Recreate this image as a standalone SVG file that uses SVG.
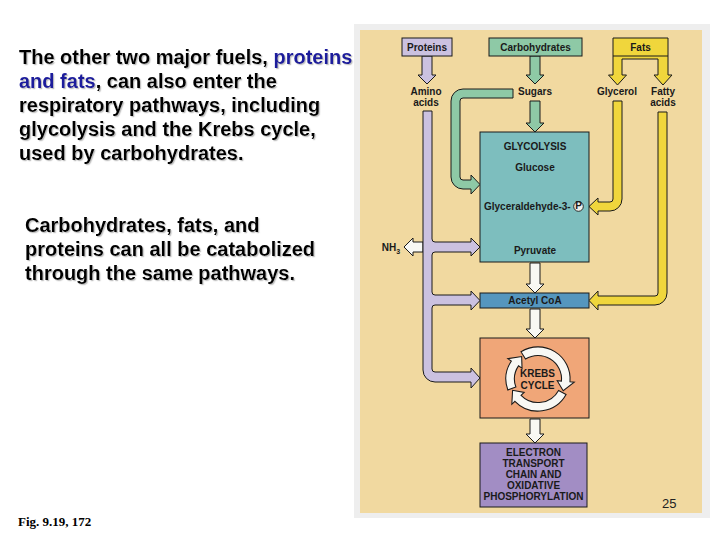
<svg xmlns="http://www.w3.org/2000/svg" width="720" height="540" viewBox="0 0 720 540">
<defs>
<filter id="sh" x="-5%" y="-20%" width="110%" height="140%">
<feDropShadow dx="1.2" dy="1.2" stdDeviation="0.4" flood-color="#9a9a9a" flood-opacity="0.6"/>
</filter>
</defs>
<style>
.lt{font-family:"Liberation Sans",Arial,sans-serif;font-weight:bold;font-size:20px;fill:#000}
.bl{fill:#1c1c9c}
.lb{font-family:"Liberation Sans",Arial,sans-serif;font-weight:bold;font-size:10px;fill:#1a1a1a;text-anchor:middle}
.st{text-anchor:start}
.box{stroke:#1a1a1a;stroke-width:1}
.ar{stroke:#1a1a1a;stroke-width:1;stroke-linejoin:miter}
.wh{fill:#f8f8f4}
.pr{fill:#cbc1e0}
.gr{fill:#8ec9a6}
.ye{fill:#f0d63c}
</style>
<rect width="720" height="540" fill="#ffffff"/>
<rect x="354" y="24" width="356" height="494" fill="#eeeeee"/>
<rect x="360" y="30" width="342" height="483" fill="#f1d9a0"/>

<g id="left-text" filter="url(#sh)">
<text class="lt" x="19" y="64">The other two major fuels, <tspan class="bl">proteins</tspan></text>
<text class="lt" x="19" y="88"><tspan class="bl">and fats</tspan>, can also enter the</text>
<text class="lt" x="19" y="112">respiratory pathways, including</text>
<text class="lt" x="19" y="136">glycolysis and the Krebs cycle,</text>
<text class="lt" x="19" y="160">used by carbohydrates.</text>
<text class="lt" x="25" y="232">Carbohydrates, fats, and</text>
<text class="lt" x="25" y="256">proteins can all be catabolized</text>
<text class="lt" x="25" y="280">through the same pathways.</text>
</g>
<text x="18" y="526" font-family="'Liberation Serif','Times New Roman',serif" font-weight="bold" font-size="13" fill="#000">Fig. 9.19, 172</text>
<text x="662" y="508" font-family="'Liberation Sans',Arial,sans-serif" font-size="13" fill="#222">25</text>

<g id="connectors">
<path class="ar pr" d="M422,56 V75 H418 L427,84 L436,75 H432 V56 Z"/>
<path class="ar gr" d="M530,56 V75 H526 L535,84 L544,75 H540 V56 Z"/>
<path class="ar gr" d="M530,101 V123 H526 L535,132 L544,123 H540 V101 Z"/>
<path class="ar gr" d="M513,89 H463 A12,12 0 0 0 451,101 V177 A12,12 0 0 0 463,189 H471 V194 L480,184.5 L471,175 V180 H463 A3,3 0 0 1 460,177 V101 A3,3 0 0 1 463,98 H513 Z"/>
<path class="ar wh" d="M423,242 H413 V238 L404,247 L413,256 V252 H423 Z"/>
<path class="ar pr" d="M423,111 H432 V239 A3,3 0 0 0 435,242 H471 V238 L480,247 L471,256 V252 H435 A3,3 0 0 0 432,255 V292 A3,3 0 0 0 435,295 H471 V291 L480,300.5 L471,310 V305 H435 A3,3 0 0 0 432,308 V369 A3,3 0 0 0 435,372 H471 V368 L480,378 L471,388 V382 H435 A12,12 0 0 1 423,370 V111 Z"/>
<path class="ar ye" d="M613,101 H622 V199 A12,12 0 0 1 610,211 H598 V215 L589,206.5 L598,198 V202 H610 A3,3 0 0 0 613,199 Z"/>
<path class="ar ye" d="M658,112 H667 V293 A12,12 0 0 1 655,305 H598 V310 L589,300.5 L598,291 V296 H655 A3,3 0 0 0 658,293 Z"/>
<path class="ar wh" d="M530,175 V188 H526 L535,197 L544,188 H540 V175 Z"/>
<path class="ar wh" d="M530,214 V234 H526 L535,243 L544,234 H540 V214 Z"/>
<path class="ar wh" d="M530,263 V284 H526 L535,293 L544,284 H540 V263 Z"/>
<path class="ar wh" d="M530,309 V329 H526 L535,338 L544,329 H540 V309 Z"/>
<path class="ar wh" d="M530,419 V434 H526 L535,443 L544,434 H540 V419 Z"/>
</g>

<g id="proteins">
<rect class="box pr" x="402" y="38" width="50" height="18"/>
<text class="lb" x="427" y="51" font-size="11">Proteins</text>
</g>
<g id="carbohydrates">
<rect class="box gr" x="489" y="38" width="93" height="18"/>
<text class="lb" x="535.5" y="51" font-size="11">Carbohydrates</text>
</g>
<g id="fats">
<path class="ar ye" d="M613,38 H668 V75 H672 L663,85 L654,75 H658 V59 H622 V75 H626.5 L617.5,85 L608.5,75 H613 Z"/>
<line x1="613" y1="56" x2="668" y2="56" stroke="#1a1a1a" stroke-width="1"/>
<text class="lb" x="640.5" y="51" font-size="11">Fats</text>
</g>
<g id="amino-acids">
<text class="lb" x="426" y="94.5">Amino</text>
<text class="lb" x="426" y="105.5">acids</text>
</g>
<g id="sugars"><text class="lb" x="535" y="94.5">Sugars</text></g>
<g id="glycerol"><text class="lb" x="617" y="94.5">Glycerol</text></g>
<g id="fatty-acids">
<text class="lb" x="663" y="94.5">Fatty</text>
<text class="lb" x="663" y="105.5">acids</text>
</g>
<g id="nh3"><text class="lb" x="391" y="251">NH<tspan font-size="7" dy="2.5">3</tspan></text></g>

<g id="glycolysis">
<rect class="box" x="480" y="132" width="109" height="130" fill="#7dbebe"/>
<text class="lb" x="535" y="149.5">GLYCOLYSIS</text>
<text class="lb" x="535" y="170.5">Glucose</text>
<text class="lb st" x="484" y="210" font-size="10.3">Glyceraldehyde-3-</text>
<circle cx="578.5" cy="206.5" r="4.8" fill="#f0f0ea" stroke="#1a1a1a" stroke-width="0.9"/>
<text class="lb" x="578.5" y="209.2" font-size="7.5">P</text>
<text class="lb" x="535" y="253.5">Pyruvate</text>
</g>
<g id="acetyl-coa">
<rect class="box" x="480" y="293" width="109" height="15" fill="#5596be"/>
<text class="lb" x="535" y="304">Acetyl CoA</text>
</g>
<g id="krebs-cycle">
<rect class="box" x="480" y="338" width="109" height="80" fill="#f0a678"/>
<g transform="translate(538,379) scale(1.07) translate(-541,-379)">
<path class="ar wh" stroke-width="0.93" d="M525.10,353.56 A30,30 0 0 1 570.89,381.62 L574.87,381.96 L564.56,389.99 L558.93,380.57 L562.92,380.92 A22,22 0 0 0 529.34,360.34 Z"/>
<path class="ar wh" stroke-width="0.93" d="M567.24,393.54 A30,30 0 0 1 519.42,399.84 L516.54,402.62 L517.25,389.57 L528.05,391.50 L525.18,394.28 A22,22 0 0 0 560.24,389.67 Z"/>
<path class="ar wh" stroke-width="0.93" d="M512.81,389.26 A30,30 0 0 1 516.13,362.22 L512.81,359.99 L525.72,357.97 L526.08,368.93 L522.76,366.70 A22,22 0 0 0 520.33,386.52 Z"/>
</g>
<text class="lb" x="537.5" y="376.5" font-size="9.6">KREBS</text>
<text class="lb" x="537.5" y="388.5" font-size="9.6">CYCLE</text>
</g>
<g id="electron-transport">
<rect class="box" x="480" y="443" width="107" height="64" fill="#a28dc4"/>
<text class="lb" x="533.5" y="455.5" font-size="9.6">ELECTRON</text>
<text class="lb" x="533.5" y="466.5" font-size="9.6">TRANSPORT</text>
<text class="lb" x="533.5" y="477.5" font-size="9.6">CHAIN AND</text>
<text class="lb" x="533.5" y="488.5" font-size="9.6">OXIDATIVE</text>
<text class="lb" x="533.5" y="500" font-size="9.6">PHOSPHORYLATION</text>
</g>
</svg>
